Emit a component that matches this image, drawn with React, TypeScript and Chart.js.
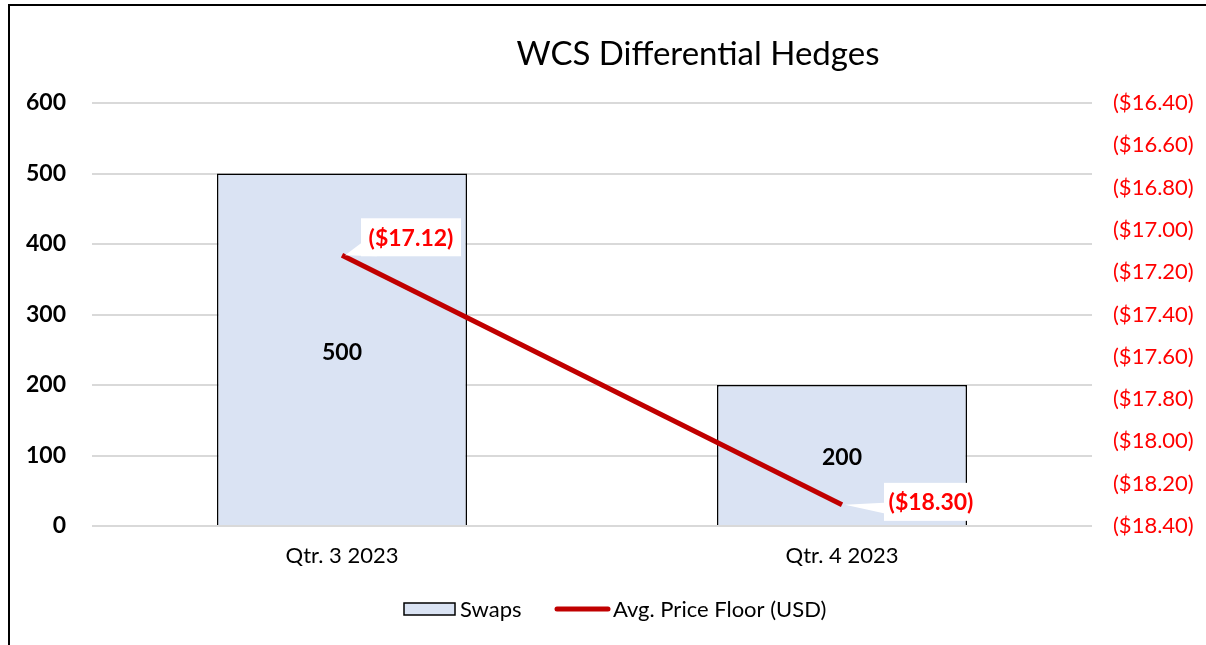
import React, { useEffect, useRef } from "react";
import { Chart, registerables } from "chart.js";

Chart.register(...registerables);

const categories = ["Qtr. 3 2023", "Qtr. 4 2023"];
const swaps = [500, 200];
const priceFloor = [-17.12, -18.3];
const titleText = "WCS Differential Hedges";
const swapsLabel = "Swaps";
const floorLabel = "Avg. Price Floor (USD)";

const FONT = "Lato, 'Open Sans', sans-serif";
const RED_TXT = "#ff0000";
const LINE_RED = "#c00000";
const BAR_FILL = "#dae3f3";

const fmtMoney = (v: number) => "($" + Math.abs(v).toFixed(2) + ")";

const decorPlugin = {
  id: "decor",
  beforeDraw(chart: any) {
    const ctx = chart.ctx;
    ctx.save();
    ctx.fillStyle = "#fff";
    ctx.fillRect(0, 0, chart.width, chart.height);
    ctx.restore();
  },
  afterDatasetsDraw(chart: any) {
    const ctx = chart.ctx;
    ctx.save();
    const barMeta = chart.getDatasetMeta(0);
    ctx.font = `bold 23px ${FONT}`;
    ctx.fillStyle = "#000";
    ctx.textAlign = "center";
    ctx.textBaseline = "middle";
    barMeta.data.forEach((el: any, i: number) => {
      const y = (el.y + el.base) / 2 + 3;
      ctx.fillText(String(swaps[i]), el.x, y);
    });
    ctx.restore();
  },
  afterDraw(chart: any) {
    const ctx = chart.ctx;
    ctx.save();
    const lineMeta = chart.getDatasetMeta(1);
    const boxes = [
      { dx: 19, dy: -37, w: 100, h: 38, wedge: [[19, -12], [33, 1]] },
      { dx: 42, dy: -22, w: 94, h: 38, wedge: [[42, -2], [42, 9]] },
    ];
    lineMeta.data.forEach((pt: any, i: number) => {
      const b = boxes[i];
      const bx = pt.x + b.dx;
      const by = pt.y + b.dy;
      ctx.fillStyle = "#fff";
      ctx.fillRect(bx, by, b.w, b.h);
      ctx.beginPath();
      ctx.moveTo(pt.x + 3, pt.y);
      ctx.lineTo(pt.x + b.wedge[0][0], pt.y + b.wedge[0][1]);
      ctx.lineTo(pt.x + b.wedge[1][0] + 2, pt.y + b.wedge[1][1]);
      ctx.closePath();
      ctx.fill();
      ctx.font = `bold 23px ${FONT}`;
      ctx.fillStyle = RED_TXT;
      ctx.textAlign = "center";
      ctx.textBaseline = "middle";
      ctx.fillText(fmtMoney(priceFloor[i]), bx + b.w / 2, by + b.h / 2 + 1);
    });

    // title
    ctx.font = `33px ${FONT}`;
    ctx.fillStyle = "#000";
    ctx.textAlign = "center";
    ctx.textBaseline = "middle";
    ctx.fillText(titleText, 698, 54);

    // legend
    ctx.textAlign = "left";
    ctx.font = `22px ${FONT}`;
    ctx.fillStyle = BAR_FILL;
    ctx.fillRect(404, 603, 51, 12);
    ctx.strokeStyle = "#000";
    ctx.lineWidth = 1.5;
    ctx.strokeRect(404, 603, 51, 12);
    ctx.fillStyle = "#000";
    ctx.fillText(swapsLabel, 460, 610);
    ctx.strokeStyle = LINE_RED;
    ctx.lineWidth = 5;
    ctx.lineCap = "round";
    ctx.beginPath();
    ctx.moveTo(557, 609);
    ctx.lineTo(608, 609);
    ctx.stroke();
    ctx.fillStyle = "#000";
    ctx.fillText(floorLabel, 613, 610);

    // outer border
    ctx.strokeStyle = "#000";
    ctx.lineWidth = 2;
    ctx.lineCap = "butt";
    ctx.beginPath();
    ctx.moveTo(9, 645);
    ctx.lineTo(9, 5);
    ctx.lineTo(1206, 5);
    ctx.stroke();
    ctx.restore();
  },
};

export default function App() {
  const ref = useRef<HTMLCanvasElement | null>(null);
  useEffect(() => {
    document.body.style.margin = "0";
    const canvas = ref.current!;
    const chart = new Chart(canvas, {
      type: "bar",
      data: {
        labels: categories,
        datasets: [
          {
            type: "bar",
            label: swapsLabel,
            data: swaps,
            backgroundColor: BAR_FILL,
            borderColor: "#000",
            borderWidth: 1.5,
            barPercentage: 0.5,
            categoryPercentage: 1,
            yAxisID: "y",
            order: 2,
          },
          {
            type: "line",
            label: floorLabel,
            data: priceFloor,
            borderColor: LINE_RED,
            borderWidth: 5,
            pointRadius: 0,
            yAxisID: "y1",
            order: 1,
          } as any,
        ],
      },
      options: {
        responsive: false,
        animation: false,
        layout: { padding: { top: 103, left: 0, right: 0, bottom: 0 } },
        plugins: {
          legend: { display: false },
          title: { display: false },
          tooltip: { enabled: false },
        },
        scales: {
          x: {
            grid: { display: false, drawTicks: false },
            border: { display: false },
            ticks: {
              padding: 17,
              color: "#000",
              font: { family: FONT, size: 22 },
            },
            afterFit: (s: any) => {
              s.height = 645 - 526;
            },
          },
          y: {
            position: "left",
            min: 0,
            max: 600,
            ticks: {
              stepSize: 100,
              padding: 26,
              color: "#000",
              font: { family: FONT, size: 23, weight: "bold" },
            },
            grid: { color: "#d9d9d9", lineWidth: 2, drawTicks: false },
            border: { display: false },
            afterFit: (s: any) => {
              s.width = 92;
            },
          },
          y1: {
            position: "right",
            min: -18.4,
            max: -16.4,
            ticks: {
              stepSize: 0.2,
              padding: 21,
              color: RED_TXT,
              font: { family: FONT, size: 22 },
              callback: (v: any) => fmtMoney(Number(v)),
            },
            grid: { display: false, drawTicks: false },
            border: { display: false },
            afterFit: (s: any) => {
              s.width = 1206 - 1092;
            },
          },
        },
      },
      plugins: [decorPlugin],
    } as any);
    return () => chart.destroy();
  }, []);
  return (
    <div style={{ width: 1206, height: 645 }}>
      <canvas ref={ref} width={1206} height={645} style={{ display: "block" }} />
    </div>
  );
}
